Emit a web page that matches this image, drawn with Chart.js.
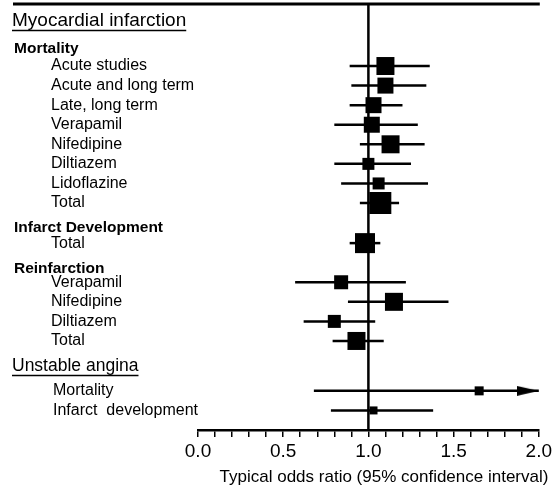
<!DOCTYPE html>
<html><head><meta charset="utf-8">
<script src="https://cdn.jsdelivr.net/npm/chart.js@4"></script>
<style>html,body{margin:0;padding:0;background:#fff}canvas{display:block}</style>
</head><body>
<canvas id="c" width="555" height="488"></canvas>
<script>
// ---- data ----
const rowLabels = ['Acute studies','Acute and long term','Late, long term','Verapamil','Nifedipine','Diltiazem','Lidoflazine','Total',
  'Total','Verapamil','Nifedipine','Diltiazem','Total','Mortality','Infarct  development'];
const rowPos = [0,1,2,3,4,5,6,7,9.05,11.05,12.05,13.05,14.05,16.6,17.6];
const oddsRatio = [1.10,1.10,1.03,1.02,1.13,1.00,1.06,1.07,0.98,0.84,1.15,0.80,0.93,1.65,1.03];
const ciLow  = [0.89,0.90,0.89,0.80,0.95,0.80,0.84,0.95,0.89,0.57,0.88,0.62,0.79,0.68,0.78];
const ciHigh = [1.36,1.34,1.20,1.29,1.33,1.25,1.35,1.18,1.07,1.22,1.47,1.04,1.09,2.00,1.38];
const weight = [18,16,16,16,18,12,12,22,20,14,18,13,18,9,8];
const headerLabels = ['Myocardial infarction','Mortality','Infarct Development','Reinfarction','Unstable angina'];
const headerPos = [-2.3,-0.87,8.25,10.37,15.33];
const headerLevel = [0,1,1,1,0];
const xTicks = [0,0.5,1,1.5,2];
const xTitle = 'Typical odds ratio (95% confidence interval)';
const yMin = -3.17, yMax = 18.6;

// ---- helpers ----
const FONT = '"Liberation Sans", Arial, Helvetica, sans-serif';
function arrowHead(L, H){
  const c = document.createElement('canvas');
  c.width = 2*L; c.height = H;
  const g = c.getContext('2d');
  g.fillStyle = '#000';
  g.beginPath(); g.moveTo(0,0); g.lineTo(L,H/2); g.lineTo(0,H); g.closePath(); g.fill();
  return c;
}

const datasets = [];
datasets.push({
  label:'estimate', type:'scatter',
  data: rowPos.map((p,i)=>({x:oddsRatio[i], y:p})),
  pointStyle:'rect', pointRadius: weight.map(w=>w/Math.SQRT2),
  backgroundColor:'#000', borderWidth:0, clip:false
});
const truncated = rowPos.map((p,i)=>ciHigh[i] >= 2);
datasets.push({
  label:'arrow', type:'scatter',
  data: rowPos.map((p,i)=>truncated[i]?{x:ciHigh[i], y:p}:null).filter(Boolean),
  pointStyle: arrowHead(22,10), pointRadius:5, clip:false
});
datasets.push({
  label:'ref', type:'line',
  data:[{x:1,y:yMin},{x:1,y:yMax}],
  borderColor:'#000', borderWidth:2.5, pointRadius:0, clip:false
});
rowPos.forEach((p,i)=>{
  datasets.push({
    label:'ci'+i, type:'line',
    data:[{x:ciLow[i],y:p},{x:ciHigh[i],y:p}],
    borderColor:'#000', borderWidth:2.5, pointRadius:0, clip:false
  });
});

const labelsPlugin = {
  id:'labels',
  afterDraw(chart){
    const ctx = chart.ctx, ys = chart.scales.y, ca = chart.chartArea;
    ctx.save();
    // top rule
    ctx.strokeStyle = '#000'; ctx.lineWidth = 3;
    ctx.beginPath(); ctx.moveTo(13, ca.top); ctx.lineTo(ca.right+1, ca.top); ctx.stroke();
    ctx.fillStyle = '#000'; ctx.textBaseline = 'middle'; ctx.textAlign = 'left';
    headerLabels.forEach((t,i)=>{
      const y = ys.getPixelForValue(headerPos[i]);
      if (headerLevel[i]===0){
        ctx.font = (i===0 ? '19px ' : '17.5px ') + FONT;
        ctx.fillText(t, 12, y);
        const w = ctx.measureText(t).width;
        ctx.lineWidth = 1.5;
        ctx.beginPath(); ctx.moveTo(12, y+9.5); ctx.lineTo(12+w, y+9.5); ctx.stroke();
      } else {
        ctx.font = 'bold 15.5px ' + FONT;
        ctx.fillText(t, 14, y);
      }
    });
    ctx.font = '16px ' + FONT;
    rowLabels.forEach((t,i)=>{
      ctx.fillText(t, i>=13 ? 53 : 51, ys.getPixelForValue(rowPos[i]));
    });
    ctx.font = '17px ' + FONT;
    ctx.textAlign = 'center';
    ctx.fillText(xTitle, 384, 477);
    ctx.restore();
  }
};

new Chart(document.getElementById('c'), {
  type:'scatter',
  data:{datasets},
  options:{
    responsive:false, animation:false, events:[],
    layout:{autoPadding:false, padding:{left:198, right:15, top:4, bottom:0}},
    plugins:{legend:{display:false}, tooltip:{enabled:false}},
    scales:{
      x:{
        type:'linear', min:0, max:2,
        afterFit(s){ s.height = 58; },
        ticks:{
          stepSize:0.1, autoSkip:false, maxRotation:0, padding:3,
          color:'#000', font:{family:FONT, size:19},
          callback(v){ const k = xTicks.find(t=>Math.abs(t-v)<1e-6); return k===undefined ? '' : k.toFixed(1); }
        },
        grid:{display:true, drawOnChartArea:false, drawTicks:true, tickLength:7, color:'#000', lineWidth:1.5},
        border:{display:true, color:'#000', width:2.5}
      },
      y:{type:'linear', reverse:true, min:yMin, max:yMax, display:false}
    }
  },
  plugins:[labelsPlugin]
});
</script>
</body></html>
